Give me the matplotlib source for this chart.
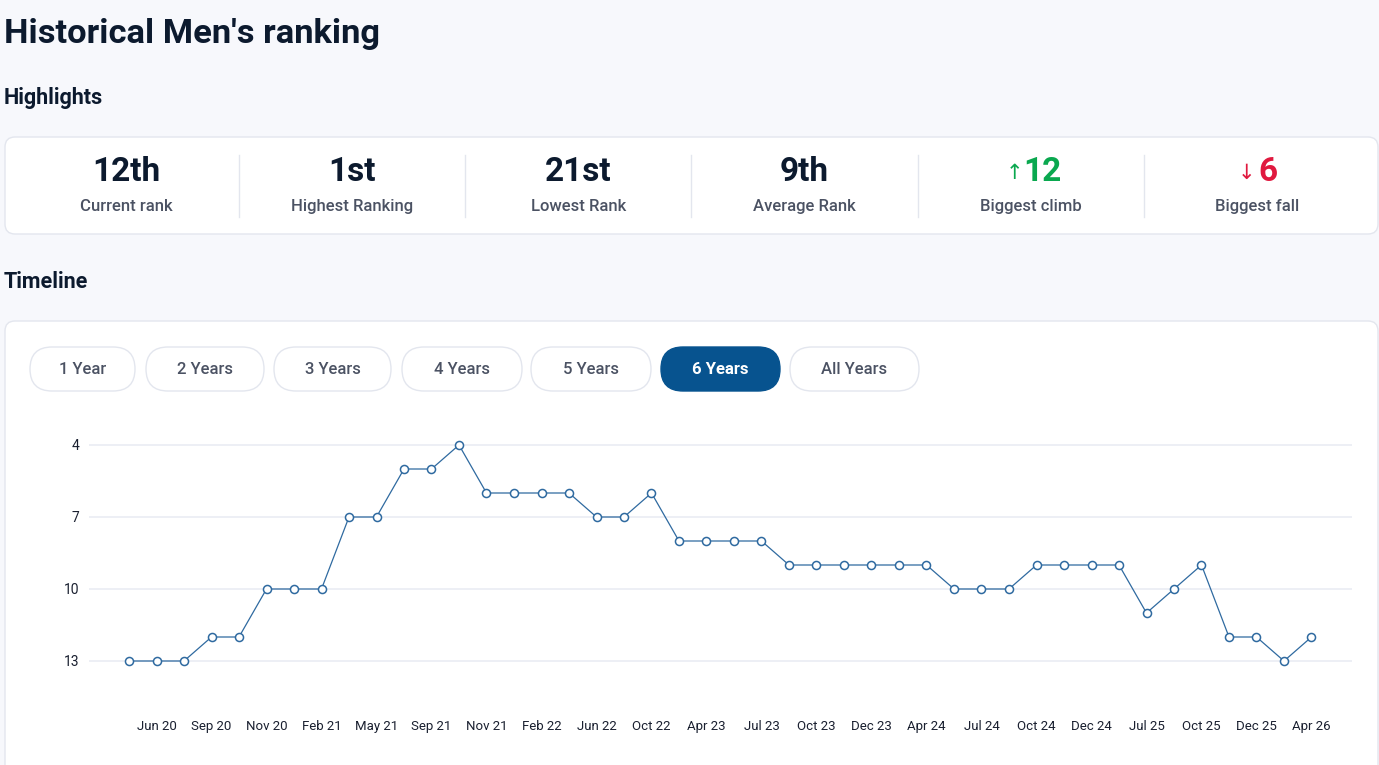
import matplotlib
matplotlib.use("Agg")
import matplotlib.pyplot as plt
from matplotlib.patches import FancyBboxPatch

W, H = 1379, 765

title = "Historical Men's ranking"
highlight_values = ["12th", "1st", "21st", "9th", "12", "6"]
highlight_labels = ["Current rank", "Highest Ranking", "Lowest Rank",
                    "Average Rank", "Biggest climb", "Biggest fall"]
range_buttons = ["1 Year", "2 Years", "3 Years", "4 Years", "5 Years",
                 "6 Years", "All Years"]
active_button = "6 Years"

ranks = [13, 13, 13, 12, 12, 10, 10, 10, 7, 7, 5, 5, 4, 6, 6, 6, 6, 7, 7, 6,
         8, 8, 8, 8, 9, 9, 9, 9, 9, 9, 10, 10, 10, 9, 9, 9, 9, 11, 10, 9,
         12, 12, 13, 12]
tick_labels = ["Jun 20", "Sep 20", "Nov 20", "Feb 21", "May 21", "Sep 21",
               "Nov 21", "Feb 22", "Jun 22", "Oct 22", "Apr 23", "Jul 23",
               "Oct 23", "Dec 23", "Apr 24", "Jul 24", "Oct 24", "Dec 24",
               "Jul 25", "Oct 25", "Dec 25", "Apr 26"]
y_ticks = [4, 7, 10, 13]

plt.rcParams['font.family'] = ['Roboto', 'DejaVu Sans']

DARK = "#0c1a2e"
GRAY = "#4b5263"
BORDER = "#e3e6ee"
GREEN = "#0aa84f"
RED = "#e0193f"
BLUE = "#07538f"

fig = plt.figure(figsize=(W / 100, H / 100), dpi=100)
fig.patch.set_facecolor("#f7f8fc")

bg = fig.add_axes([0, 0, 1, 1])
bg.set_xlim(0, W)
bg.set_ylim(H, 0)
bg.axis("off")


def card(x0, y0, x1, y1, face="white", edge=BORDER, r=10):
    bg.add_patch(FancyBboxPatch((x0 + r, y0 + r), x1 - x0 - 2 * r, y1 - y0 - 2 * r,
                                boxstyle=f"round,pad={r}", facecolor=face,
                                edgecolor=edge, linewidth=1))


# headings
bg.text(4, 34, title, fontsize=24.8, fontweight="bold", color=DARK, va="center")
bg.text(4, 98, "Highlights", fontsize=15.5, fontweight="bold", color=DARK, va="center")
bg.text(4, 282, "Timeline", fontsize=15.5, fontweight="bold", color=DARK, va="center")

# highlights card
card(5, 137, 1378, 234)
col_w = 226.2
for i, (val, lab) in enumerate(zip(highlight_values, highlight_labels)):
    cx = 126 + i * col_w
    if i > 0:
        bg.plot([cx - col_w / 2, cx - col_w / 2], [155, 217], color=BORDER, lw=1)
    if i == 4:
        bg.text(cx - 16, 173, "\u2191", fontsize=15, color=GREEN, ha="center", va="center",
                family=['DejaVu Sans'])
        bg.text(cx + 12, 172, val, fontsize=24, fontweight="bold", color=GREEN,
                ha="center", va="center")
    elif i == 5:
        bg.text(cx - 11, 173, "\u2193", fontsize=15, color=RED, ha="center", va="center",
                family=['DejaVu Sans'])
        bg.text(cx + 11, 172, val, fontsize=24, fontweight="bold", color=RED,
                ha="center", va="center")
    else:
        bg.text(cx, 172, val, fontsize=24, fontweight="bold", color=DARK,
                ha="center", va="center")
    bg.text(cx, 206, lab, fontsize=12, fontweight="medium", color=GRAY,
            ha="center", va="center")

# timeline card
card(5, 321, 1378, 790)

# range buttons
btn_x = [30, 146, 274, 402, 531, 661, 790]
btn_w = [105, 118, 117, 120, 120, 119, 129]
for x0, w, lab in zip(btn_x, btn_w, range_buttons):
    active = lab == active_button
    bg.add_patch(FancyBboxPatch((x0 + 22, 347 + 22), w - 44, 0,
                                boxstyle="round,pad=22",
                                facecolor=BLUE if active else "white",
                                edgecolor=BLUE if active else BORDER, linewidth=1))
    bg.text(x0 + w / 2, 369, lab, fontsize=12, color="white" if active else GRAY,
            fontweight="bold" if active else "medium", ha="center", va="center")

# line chart
ax = fig.add_axes([89 / W, (H - 709) / H, (1352 - 89) / W, (709 - 421) / H])
ax.set_facecolor("none")
x = list(range(len(ranks)))
ax.plot(x, ranks, color="#2f6aa0", lw=0.9, marker="o", markersize=5.8,
        markerfacecolor="white", markeredgecolor="#2f6aa0", markeredgewidth=1.1,
        clip_on=False, zorder=3)
ax.set_xlim(-40 / 27.5, (1352 - 129) / 27.5)
ax.set_ylim(15, 3)
ax.set_yticks(y_ticks)
ax.set_yticklabels([str(v) for v in y_ticks])
ax.set_xticks(x[1::2])
ax.set_xticklabels(tick_labels)
ax.grid(axis="y", color="#eceef4", lw=1.3)
ax.set_axisbelow(True)
for s in ax.spines.values():
    s.set_visible(False)
ax.tick_params(axis="both", length=0, labelcolor="#1a2030")
ax.tick_params(axis="x", labelsize=9.5, pad=8)
ax.tick_params(axis="y", labelsize=10, pad=7)

fig.savefig("out.png", dpi=100, facecolor=fig.get_facecolor())
